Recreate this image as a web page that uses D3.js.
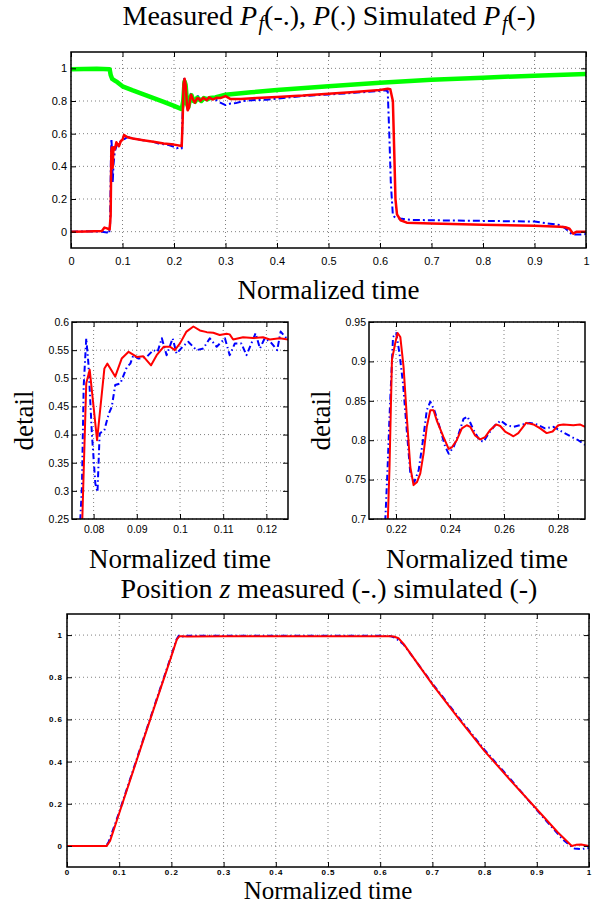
<!DOCTYPE html>
<html>
<head>
<meta charset="utf-8">
<script src="https://cdn.jsdelivr.net/npm/d3@7"></script>
<style>
  body { margin: 0; background: #fff; }
</style>
</head>
<body>
<div id="chart"></div>
<script>
// ---- top panel: pressures ----
const pfMeasTime = [0, 0.03, 0.06, 0.07, 0.074, 0.076, 0.0775, 0.0785, 0.0795, 0.081, 0.0825, 0.085, 0.088, 0.09, 0.095, 0.1, 0.105, 0.11, 0.115, 0.12, 0.13, 0.14, 0.15, 0.16, 0.17, 0.18, 0.19, 0.2, 0.205, 0.21, 0.215, 0.2165, 0.218, 0.2195, 0.221, 0.2225, 0.2245, 0.2265, 0.2285, 0.2315, 0.233, 0.2355, 0.2395, 0.2435, 0.2465, 0.2495, 0.2525, 0.2565, 0.26, 0.265, 0.27, 0.275, 0.28, 0.285, 0.29, 0.3, 0.31, 0.32, 0.335, 0.35, 0.38, 0.4, 0.45, 0.5, 0.55, 0.6, 0.61, 0.615, 0.618, 0.621, 0.625, 0.63, 0.64, 0.66, 0.7, 0.75, 0.8, 0.85, 0.9, 0.95, 0.96, 0.973, 0.985, 1.0];
const pfMeasValues = [0, 0.002, 0, -0.005, -0.012, 0.05, 0.45, 0.57, 0.5, 0.3, 0.41, 0.49, 0.52, 0.54, 0.55, 0.56, 0.57, 0.58, 0.575, 0.57, 0.565, 0.56, 0.555, 0.55, 0.54, 0.535, 0.53, 0.52, 0.51, 0.515, 0.51, 0.7, 0.88, 0.935, 0.915, 0.87, 0.8, 0.75, 0.765, 0.835, 0.849, 0.82, 0.783, 0.808, 0.83, 0.813, 0.798, 0.815, 0.823, 0.818, 0.822, 0.815, 0.81, 0.8, 0.79, 0.775, 0.785, 0.787, 0.8, 0.805, 0.808, 0.815, 0.83, 0.84, 0.85, 0.862, 0.865, 0.86, 0.6, 0.3, 0.1, 0.085, 0.08, 0.072, 0.07, 0.068, 0.066, 0.064, 0.062, 0.04, 0.02, -0.017, -0.018, -0.015];

const pTime = [0, 0.05, 0.075, 0.077, 0.08, 0.085, 0.09, 0.1, 0.12, 0.15, 0.18, 0.2, 0.215, 0.218, 0.2205, 0.2225, 0.2255, 0.228, 0.2315, 0.234, 0.238, 0.241, 0.245, 0.249, 0.253, 0.258, 0.265, 0.27, 0.28, 0.3, 0.35, 0.4, 0.5, 0.6, 0.7, 0.8, 0.9, 1.0];
const pValues = [0.995, 0.997, 0.995, 0.96, 0.935, 0.925, 0.915, 0.89, 0.865, 0.83, 0.795, 0.77, 0.75, 0.8, 0.92, 0.9, 0.78, 0.765, 0.82, 0.835, 0.8, 0.795, 0.82, 0.81, 0.8, 0.818, 0.81, 0.818, 0.822, 0.838, 0.853, 0.867, 0.89, 0.912, 0.93, 0.943, 0.955, 0.965];

const pfSimTime = [0, 0.03, 0.06, 0.065, 0.07, 0.075, 0.077, 0.0783, 0.0791, 0.0808, 0.0825, 0.085, 0.0881, 0.093, 0.097, 0.1, 0.103, 0.11, 0.12, 0.14, 0.16, 0.18, 0.2, 0.215, 0.2168, 0.2185, 0.2206, 0.2228, 0.2253, 0.2265, 0.229, 0.2314, 0.2333, 0.2376, 0.2405, 0.2444, 0.2475, 0.2512, 0.2571, 0.2635, 0.2682, 0.2758, 0.282, 0.29, 0.3, 0.31, 0.33, 0.36, 0.4, 0.45, 0.5, 0.55, 0.6, 0.615, 0.62, 0.625, 0.628, 0.63, 0.633, 0.64, 0.652, 0.7, 0.8, 0.9, 0.95, 0.96, 0.968, 0.975, 0.982, 1.0];
const pfSimValues = [0, 0.001, 0.004, 0.025, 0.02, 0.013, 0.1, 0.49, 0.515, 0.39, 0.517, 0.503, 0.547, 0.523, 0.556, 0.562, 0.592, 0.578, 0.57, 0.56, 0.55, 0.54, 0.533, 0.525, 0.68, 0.902, 0.936, 0.893, 0.766, 0.743, 0.758, 0.817, 0.838, 0.804, 0.79, 0.815, 0.817, 0.801, 0.82, 0.805, 0.822, 0.809, 0.82, 0.818, 0.83, 0.812, 0.812, 0.818, 0.825, 0.833, 0.845, 0.855, 0.868, 0.875, 0.872, 0.8, 0.45, 0.2, 0.106, 0.07, 0.055, 0.05, 0.043, 0.036, 0.03, 0.027, 0.018, -0.012, 0, 0];

// ---- detail 1 (start of first plateau) ----
const d1MeasTime = [0.0766, 0.0773, 0.0777, 0.0783, 0.0788, 0.0796, 0.0804, 0.0809, 0.0814, 0.0825, 0.0835, 0.0842, 0.085, 0.0862, 0.0877, 0.0885, 0.0892, 0.0904, 0.0923, 0.0938, 0.0948, 0.0958, 0.0969, 0.0983, 0.0992, 0.1006, 0.1019, 0.1038, 0.1054, 0.1069, 0.1085, 0.1104, 0.1115, 0.1127, 0.1142, 0.1154, 0.1175, 0.1185, 0.1196, 0.1209, 0.1225, 0.1233, 0.125];
const d1MeasValues = [0.2, 0.307, 0.485, 0.571, 0.526, 0.402, 0.313, 0.298, 0.402, 0.408, 0.437, 0.449, 0.488, 0.491, 0.52, 0.526, 0.541, 0.535, 0.538, 0.55, 0.547, 0.571, 0.541, 0.571, 0.544, 0.556, 0.565, 0.55, 0.553, 0.571, 0.556, 0.571, 0.541, 0.562, 0.562, 0.541, 0.58, 0.553, 0.571, 0.565, 0.55, 0.583, 0.568];
const d1SimTime = [0.0772, 0.0783, 0.0791, 0.0808, 0.0825, 0.0832, 0.085, 0.0865, 0.0881, 0.09, 0.0915, 0.0933, 0.0946, 0.0962, 0.0977, 0.0988, 0.1, 0.1015, 0.1031, 0.1046, 0.1062, 0.1077, 0.1092, 0.1108, 0.1115, 0.1123, 0.1146, 0.1169, 0.1192, 0.1208, 0.1231, 0.125];
const d1SimValues = [0.2, 0.491, 0.515, 0.39, 0.5175, 0.526, 0.503, 0.535, 0.547, 0.538, 0.539, 0.523, 0.541, 0.556, 0.556, 0.55, 0.562, 0.583, 0.592, 0.585, 0.582, 0.581, 0.577, 0.579, 0.578, 0.569, 0.573, 0.5715, 0.573, 0.569, 0.571, 0.569];

// ---- detail 2 (start of second plateau) ----
const d2MeasTime = [0.2158, 0.2169, 0.2176, 0.2189, 0.2201, 0.2213, 0.2226, 0.2241, 0.2253, 0.2268, 0.2284, 0.23, 0.2314, 0.2327, 0.2342, 0.2358, 0.2382, 0.2395, 0.2413, 0.2432, 0.245, 0.2465, 0.2487, 0.2509, 0.2524, 0.2542, 0.2567, 0.2588, 0.261, 0.2635, 0.2659, 0.2696, 0.2721, 0.2752, 0.2783, 0.2814, 0.2851, 0.2875, 0.29];
const d2MeasValues = [0.68, 0.766, 0.83, 0.931, 0.936, 0.91, 0.872, 0.808, 0.758, 0.747, 0.762, 0.8, 0.838, 0.849, 0.838, 0.821, 0.792, 0.783, 0.791, 0.808, 0.827, 0.83, 0.813, 0.8, 0.798, 0.808, 0.819, 0.825, 0.819, 0.817, 0.819, 0.822, 0.82, 0.815, 0.817, 0.811, 0.804, 0.8, 0.794];
const d2SimTime = [0.2168, 0.2176, 0.2185, 0.2197, 0.2206, 0.2216, 0.2228, 0.2241, 0.2253, 0.2265, 0.2278, 0.229, 0.2302, 0.2314, 0.2327, 0.2339, 0.2351, 0.2376, 0.2395, 0.2407, 0.2425, 0.2444, 0.2462, 0.2475, 0.2493, 0.2512, 0.253, 0.2549, 0.2571, 0.2586, 0.2604, 0.2635, 0.2653, 0.2682, 0.2709, 0.2734, 0.2758, 0.278, 0.2801, 0.282, 0.2857, 0.2881, 0.29];
const d2SimValues = [0.68, 0.766, 0.902, 0.923, 0.936, 0.931, 0.893, 0.825, 0.766, 0.743, 0.747, 0.758, 0.783, 0.817, 0.838, 0.838, 0.825, 0.804, 0.789, 0.791, 0.8, 0.815, 0.819, 0.817, 0.806, 0.801, 0.804, 0.813, 0.82, 0.818, 0.811, 0.805, 0.809, 0.822, 0.82, 0.815, 0.809, 0.811, 0.819, 0.82, 0.819, 0.82, 0.817];

// ---- bottom panel: position z ----
const zMeasTime = [0, 0.05, 0.075, 0.08, 0.1, 0.15, 0.2, 0.21, 0.215, 0.222, 0.23, 0.3, 0.4, 0.5, 0.6, 0.62, 0.63, 0.645, 0.7, 0.75, 0.8, 0.85, 0.9, 0.95, 0.965, 0.972, 0.985, 1.0];
const zMeasValues = [0, 0, 0, 0.02, 0.16, 0.535, 0.905, 0.98, 1.0, 0.993, 0.997, 0.997, 0.997, 0.997, 0.997, 0.995, 0.985, 0.955, 0.77, 0.61, 0.455, 0.315, 0.17, 0.03, 0, -0.012, -0.015, -0.01];
const zSimTime = [0, 0.05, 0.076, 0.0825, 0.1, 0.15, 0.2, 0.2105, 0.2155, 0.22, 0.23, 0.3, 0.4, 0.5, 0.6, 0.62, 0.626, 0.635, 0.6455, 0.7, 0.75, 0.8, 0.85, 0.9, 0.94, 0.967, 0.975, 0.985, 1.0];
const zSimValues = [0, 0, 0, 0.024, 0.155, 0.53, 0.9, 0.98, 0.995, 0.995, 0.993, 0.995, 0.995, 0.995, 0.995, 0.995, 0.993, 0.985, 0.956, 0.766, 0.605, 0.45, 0.31, 0.174, 0.065, 0, 0.005, 0.007, 0];

// ---- ticks ----
const fullTimeTicks = [0, 0.1, 0.2, 0.3, 0.4, 0.5, 0.6, 0.7, 0.8, 0.9, 1];
const unitTicks = [0, 0.2, 0.4, 0.6, 0.8, 1];
const d1TimeTicks = [0.08, 0.09, 0.1, 0.11, 0.12];
const d1Ticks = [0.25, 0.3, 0.35, 0.4, 0.45, 0.5, 0.55, 0.6];
const d2TimeTicks = [0.22, 0.24, 0.26, 0.28];
const d2Ticks = [0.7, 0.75, 0.8, 0.85, 0.9, 0.95];

const serif = "'Liberation Serif', 'Times New Roman', serif";
const sans = "'Liberation Sans', Arial, Helvetica, sans-serif";

const svg = d3.select("#chart").append("svg")
    .attr("width", 597)
    .attr("height", 906)
    .attr("viewBox", [0, 0, 597, 906]);

let fmt = d => String(+d.toFixed(3));

function panel(o) {
    let x = d3.scaleLinear().domain(o.xDomain).range([o.left, o.right]);
    let y = d3.scaleLinear().domain(o.yDomain).range([o.bottom, o.top]);
    let g = svg.append("g");

    g.append("clipPath").attr("id", "clip-" + o.id)
        .append("rect")
        .attr("x", o.left).attr("y", o.top)
        .attr("width", o.right - o.left).attr("height", o.bottom - o.top);

    // dotted grid
    let grid = g.append("g")
        .attr("stroke", "#808080")
        .attr("stroke-width", 1)
        .attr("stroke-dasharray", "1,3");
    grid.selectAll(".gx").data(o.xTicks).join("line")
        .attr("x1", d => x(d)).attr("x2", d => x(d))
        .attr("y1", o.top).attr("y2", o.bottom);
    grid.selectAll(".gy").data(o.yTicks).join("line")
        .attr("y1", d => y(d)).attr("y2", d => y(d))
        .attr("x1", o.left).attr("x2", o.right);

    let line = d3.line()
        .x(d => x(d[0]))
        .y(d => y(d[1]));

    o.series.forEach(s => {
        g.append("path")
            .datum(d3.zip(s.t, s.v))
            .attr("clip-path", `url(#clip-${o.id})`)
            .attr("fill", "none")
            .attr("stroke", s.color)
            .attr("stroke-width", s.width)
            .attr("stroke-linejoin", "round")
            .attr("stroke-dasharray", s.dash || null)
            .attr("d", line);
    });

    // axes, ticks pointing inward like matlab
    g.append("g")
        .attr("transform", `translate(0,${o.bottom})`)
        .call(d3.axisBottom(x).tickValues(o.xTicks).tickFormat(fmt).tickSize(-5).tickPadding(o.xPad))
        .call(g => g.select(".domain").remove())
        .attr("font-family", sans)
        .attr("font-size", o.fs)
        .attr("font-weight", o.fw || null)
        .attr("letter-spacing", o.ls || null);

    g.append("g")
        .attr("transform", `translate(${o.left},0)`)
        .call(d3.axisLeft(y).tickValues(o.yTicks).tickFormat(fmt).tickSize(-5).tickPadding(o.yPad))
        .call(g => g.select(".domain").remove())
        .attr("font-family", sans)
        .attr("font-size", o.fs)
        .attr("font-weight", o.fw || null)
        .attr("letter-spacing", o.ls || null);

    g.append("g")
        .attr("transform", `translate(0,${o.top})`)
        .call(d3.axisTop(x).tickValues(o.xTicks).tickFormat("").tickSize(-5))
        .call(g => g.select(".domain").remove());

    g.append("g")
        .attr("transform", `translate(${o.right},0)`)
        .call(d3.axisRight(y).tickValues(o.yTicks).tickFormat("").tickSize(-5))
        .call(g => g.select(".domain").remove());

    g.append("rect")
        .attr("x", o.left).attr("y", o.top)
        .attr("width", o.right - o.left).attr("height", o.bottom - o.top)
        .attr("fill", "none")
        .attr("stroke", "black")
        .attr("stroke-width", 1.5);

    if (o.xLabel) {
        g.append("text")
            .attr("x", (o.left + o.right) / 2)
            .attr("y", o.xLabelY)
            .attr("text-anchor", "middle")
            .attr("font-family", serif)
            .attr("font-size", o.xLabelSize || 27)
            .text(o.xLabel);
    }
    if (o.yLabel) {
        g.append("text")
            .attr("transform", `translate(${o.yLabelX},${(o.top + o.bottom) / 2}) rotate(-90)`)
            .attr("text-anchor", "middle")
            .attr("font-family", serif)
            .attr("font-size", 27)
            .text(o.yLabel);
    }
}

const blue = "#0000ff", red = "#ff0000", green = "#00ff00";

panel({
    id: "top", left: 71, right: 586, top: 52, bottom: 248,
    xDomain: [0, 1], yDomain: [-0.1, 1.1],
    xTicks: fullTimeTicks, yTicks: unitTicks,
    fs: 11, xPad: 9, yPad: 4,
    xLabel: "Normalized time", xLabelY: 299,
    series: [
        { t: pfMeasTime, v: pfMeasValues, color: blue, width: 2, dash: "7,3,2,3" },
        { t: pTime, v: pValues, color: green, width: 4.5 },
        { t: pfSimTime, v: pfSimValues, color: red, width: 2.5 }
    ]
});

panel({
    id: "d1", left: 72, right: 288, top: 322, bottom: 519,
    xDomain: [0.075, 0.125], yDomain: [0.25, 0.6],
    xTicks: d1TimeTicks, yTicks: d1Ticks,
    fs: 10.5, xPad: 7, yPad: 3,
    xLabel: "Normalized time", xLabelY: 568,
    yLabel: "detail", yLabelX: 33,
    series: [
        { t: d1MeasTime, v: d1MeasValues, color: blue, width: 2, dash: "6,3,1.5,3" },
        { t: d1SimTime, v: d1SimValues, color: red, width: 2 }
    ]
});

panel({
    id: "d2", left: 369, right: 585, top: 322, bottom: 519,
    xDomain: [0.21, 0.29], yDomain: [0.7, 0.95],
    xTicks: d2TimeTicks, yTicks: d2Ticks,
    fs: 10.5, xPad: 7, yPad: 3,
    xLabel: "Normalized time", xLabelY: 568,
    yLabel: "detail", yLabelX: 330,
    series: [
        { t: d2MeasTime, v: d2MeasValues, color: blue, width: 2, dash: "6,3,1.5,3" },
        { t: d2SimTime, v: d2SimValues, color: red, width: 2 }
    ]
});

panel({
    id: "z", left: 67, right: 589, top: 614, bottom: 867,
    xDomain: [0, 1], yDomain: [-0.1, 1.1],
    xTicks: fullTimeTicks, yTicks: unitTicks,
    fs: 8, fw: "bold", ls: 1, xPad: 2, yPad: 4,
    xLabel: "Normalized time", xLabelY: 899, xLabelSize: 25,
    series: [
        { t: zMeasTime, v: zMeasValues, color: blue, width: 2, dash: "6,3,1.5,3" },
        { t: zSimTime, v: zSimValues, color: red, width: 2 }
    ]
});

// titles with math italics
function title(xc, yb, parts) {
    let t = svg.append("text")
        .attr("x", xc).attr("y", yb)
        .attr("text-anchor", "middle")
        .attr("font-family", serif)
        .attr("font-size", 28);
    parts.forEach(p => {
        let s = t.append("tspan").text(p.s);
        if (p.it) s.attr("font-style", "italic");
        if (p.sub) s.attr("font-size", 20).attr("dy", 5).attr("dx", 1.5);
        if (p.up) s.attr("dy", -5);
    });
}

title(329, 25, [
    { s: "Measured  " }, { s: "P", it: 1 }, { s: "f", it: 1, sub: 1 }, { s: "(-.), ", up: 1 },
    { s: "P", it: 1 }, { s: "(.) Simulated  " }, { s: "P", it: 1 }, { s: "f", it: 1, sub: 1 }, { s: "(-)", up: 1 }
]);

title(329, 598, [
    { s: "Position " }, { s: "z", it: 1 }, { s: " measured (-.) simulated (-)" }
]);
</script>
</body>
</html>
